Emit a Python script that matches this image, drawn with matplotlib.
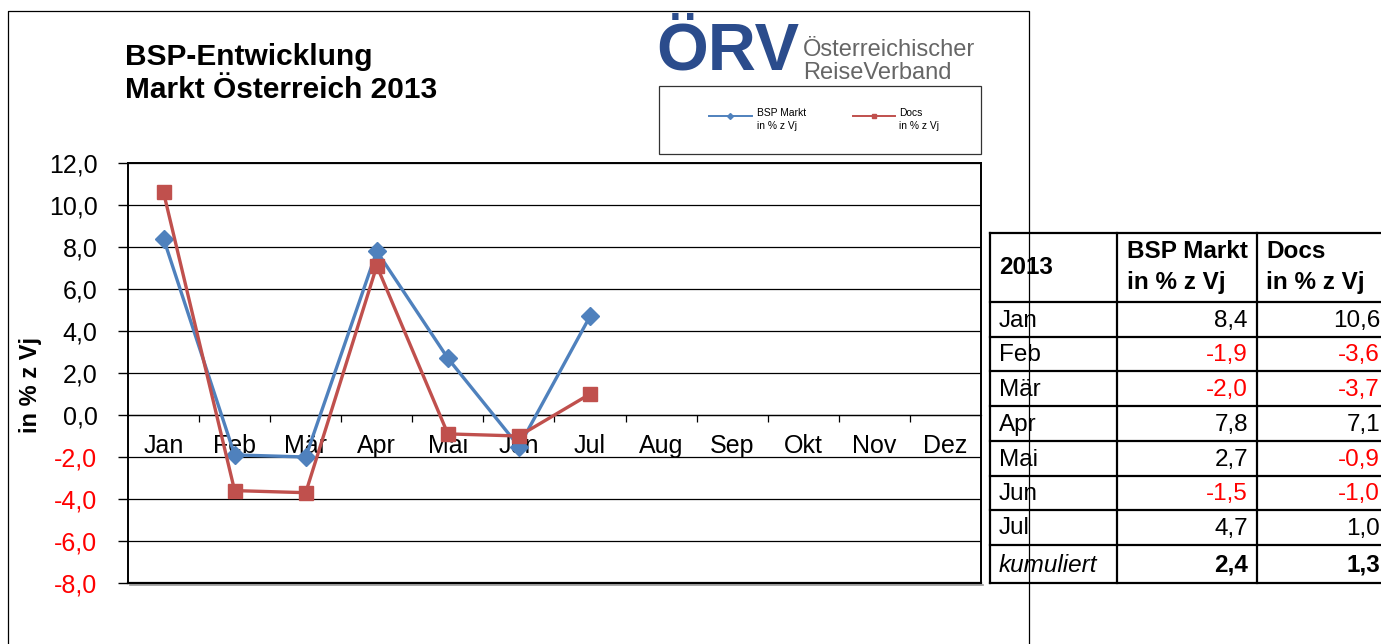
import matplotlib
matplotlib.use("Agg")
import matplotlib.pyplot as plt
from matplotlib.patches import Rectangle

plt.rcParams["font.family"] = ["Liberation Sans", "DejaVu Sans"]

# data
MONTHS = ["Jan", "Feb", "Mär", "Apr", "Mai", "Jun", "Jul",
          "Aug", "Sep", "Okt", "Nov", "Dez"]
BSP_MARKT = [8.4, -1.9, -2.0, 7.8, 2.7, -1.5, 4.7]
DOCS = [10.6, -3.6, -3.7, 7.1, -0.9, -1.0, 1.0]
KUMULIERT = [2.4, 1.3]
Y_TICKS = [-8, -6, -4, -2, 0, 2, 4, 6, 8, 10, 12]

BLUE = "#4F81BD"
RED = "#C0504D"
W, H = 1381, 644
TFS = 17.5  # table font size


def fmt(v):
    return f"{v:.1f}".replace(".", ",")


fig = plt.figure(figsize=(W / 100, H / 100), dpi=100)

# pixel overlay for frame, titles, logo, legend and table
ov = fig.add_axes([0, 0, 1, 1])
ov.set_xlim(0, W)
ov.set_ylim(H, 0)
ov.set_axis_off()

# outer chart frame
ov.plot([8, 8, 1029, 1029], [H, 11, 11, H], color="black", lw=0.9)

ov.text(125, 57, "BSP-Entwicklung", fontsize=21.5, fontweight="bold", va="center")
ov.text(125, 90, "Markt Österreich 2013", fontsize=21.5, fontweight="bold", va="center")

# logo
ov.text(656, 52, "ÖRV", fontsize=48, fontweight="bold", color="#2B4C8C",
        va="center", ha="left")
ov.text(803, 50, "Österreichischer", fontsize=17, color="#666666", va="center")
ov.text(803, 73, "ReiseVerband", fontsize=17, color="#666666", va="center")

# legend box
ov.add_patch(Rectangle((659, 86), 322, 68, fill=False, ec="#333333", lw=0.9))
ov.plot([709, 752], [116, 116], color=BLUE, lw=1.4)
ov.plot([730], [116], marker="D", color=BLUE, ms=3)
ov.text(757, 113, "BSP Markt", fontsize=7.4, va="center")
ov.text(757, 126, "in % z Vj", fontsize=7.4, va="center")
ov.plot([853, 895], [116, 116], color=RED, lw=1.4)
ov.plot([874], [116], marker="s", color=RED, ms=3.5)
ov.text(899, 113, "Docs", fontsize=7.4, va="center")
ov.text(899, 126, "in % z Vj", fontsize=7.4, va="center")

fig.text(30 / W, 1 - 385 / H, "in % z Vj", rotation=90, fontsize=17,
         fontweight="bold", ha="center", va="center")

# main chart
ax = fig.add_axes([128 / W, (H - 583) / H, 853 / W, 420 / H])
x = list(range(len(BSP_MARKT)))
ax.plot(x, BSP_MARKT, color=BLUE, lw=2.4, marker="D", ms=9.5, zorder=3)
ax.plot(x, DOCS, color=RED, lw=2.4, marker="s", ms=10.5, zorder=4)

ax.set_xlim(-0.5, len(MONTHS) - 0.5)
ax.set_ylim(-8, 12)
ax.set_yticks(Y_TICKS)
ax.set_yticklabels([fmt(v) for v in Y_TICKS], fontsize=18)
for lab, v in zip(ax.get_yticklabels(), Y_TICKS):
    lab.set_color("#FF0000" if v < 0 else "black")
ax.tick_params(axis="y", direction="out", length=7, width=1, pad=15)
ax.grid(axis="y", color="black", lw=0.9)
ax.set_axisbelow(True)

ax.spines["bottom"].set_position(("data", 0))
ax.spines["bottom"].set_linewidth(0.9)
ax.set_xticks(range(len(MONTHS)))
ax.set_xticklabels(MONTHS, fontsize=18)
ax.set_xticks([i + 0.5 for i in range(len(MONTHS) - 1)], minor=True)
ax.tick_params(axis="x", which="major", length=0, pad=14)
ax.tick_params(axis="x", which="minor", direction="out", length=5, width=0.9)
for side in ["left", "top", "right"]:
    ax.spines[side].set_linewidth(1.4)
ax.plot([0, 1], [0, 0], transform=ax.transAxes, color="black", lw=1.6,
        clip_on=False)
ax.plot([0.002, 1.002], [-0.004, -0.004], transform=ax.transAxes,
        color="#999999", lw=1.2, clip_on=False, zorder=0)

# table
col_x = [990, 1117, 1257, 1381]
row_y = [233, 302, 337, 371, 406, 441, 476, 510, 545, 583]
for yy in row_y:
    ov.plot([col_x[0], col_x[-1]], [yy, yy], color="black", lw=1.6)
for xx in col_x[:-1]:
    ov.plot([xx, xx], [row_y[0], row_y[-1]], color="black", lw=1.6)

ov.text(999, 267, "2013", fontsize=TFS, fontweight="bold", va="center")
ov.text(1127, 251, "BSP Markt", fontsize=TFS, fontweight="bold", va="center")
ov.text(1127, 282, "in % z Vj", fontsize=TFS, fontweight="bold", va="center")
ov.text(1266, 251, "Docs", fontsize=TFS, fontweight="bold", va="center")
ov.text(1266, 282, "in % z Vj", fontsize=TFS, fontweight="bold", va="center")

for i, (b, d) in enumerate(zip(BSP_MARKT, DOCS)):
    yc = (row_y[i + 1] + row_y[i + 2]) / 2 + 1
    ov.text(999, yc, MONTHS[i], fontsize=TFS, va="center")
    ov.text(1248, yc, fmt(b), fontsize=TFS, va="center", ha="right",
            color="#FF0000" if b < 0 else "black")
    ov.text(1380, yc, fmt(d), fontsize=TFS, va="center", ha="right",
            color="#FF0000" if d < 0 else "black")
yc = (row_y[-2] + row_y[-1]) / 2 + 1
ov.text(999, yc, "kumuliert", fontsize=TFS, style="italic", va="center")
ov.text(1248, yc, fmt(KUMULIERT[0]), fontsize=TFS, fontweight="bold",
        va="center", ha="right")
ov.text(1380, yc, fmt(KUMULIERT[1]), fontsize=TFS, fontweight="bold",
        va="center", ha="right")

fig.savefig("out.png", dpi=100)
